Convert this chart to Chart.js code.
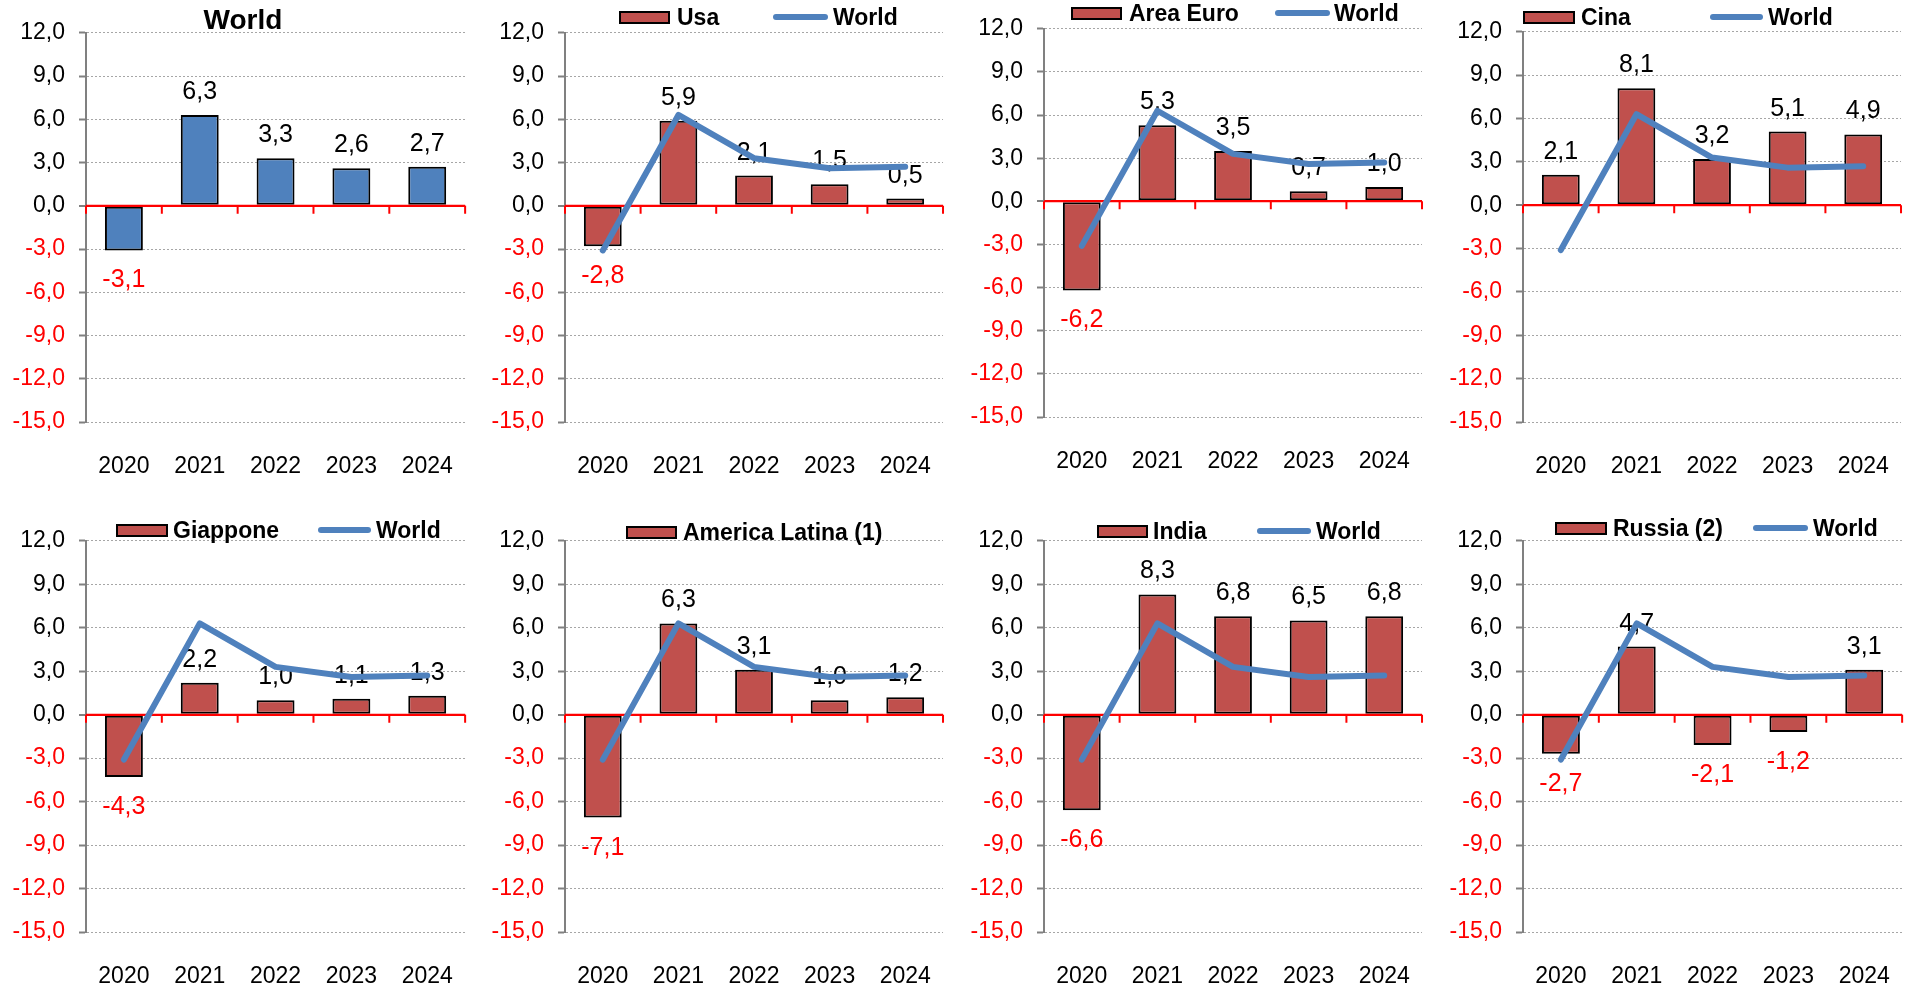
<!DOCTYPE html>
<html>
<head>
<meta charset="utf-8">
<script src="https://cdn.jsdelivr.net/npm/chart.js@4.4.1/dist/chart.umd.min.js"></script>
<style>
  html, body { margin:0; padding:0; background:#fff; width:1913px; height:988px; overflow:hidden; }
  body { position:relative; font-family:"Liberation Sans", Arial, sans-serif; }
  canvas { position:absolute; }
  .lg { position:absolute; height:30px; display:flex; align-items:center; font-weight:bold; font-size:23px; color:#000; white-space:nowrap; }
  .box { position:absolute; box-sizing:border-box; border:2px solid #000; background:#C0504D; }
  .ln { position:absolute; height:6px; border-radius:3px; background:#4F81BD; }
  .title { position:absolute; font-weight:bold; font-size:28px; line-height:28px; color:#000; white-space:nowrap; transform:translateX(-50%); }
</style>
</head>
<body>
<script>
// ---- data ----
const years = ['2020', '2021', '2022', '2023', '2024'];
const world = [-3.1, 6.3, 3.3, 2.6, 2.7];
const usa = [-2.8, 5.9, 2.1, 1.5, 0.5];
const areaEuro = [-6.2, 5.3, 3.5, 0.7, 1.0];
const cina = [2.1, 8.1, 3.2, 5.1, 4.9];
const giappone = [-4.3, 2.2, 1.0, 1.1, 1.3];
const americaLatina = [-7.1, 6.3, 3.1, 1.0, 1.2];
const india = [-6.6, 8.3, 6.8, 6.5, 6.8];
const russia = [-2.7, 4.7, -2.1, -1.2, 3.1];
const yMin = -15, yMax = 12, yStep = 3;

// ---- styles / layout ----
const BLUE = '#4F81BD', RED_BAR = '#C0504D', NEG = '#FF0000';
const FONT = '"Liberation Sans", Arial, sans-serif';
Chart.defaults.font.family = FONT;

const panels = [
  { name: 'World', values: world, color: BLUE, line: false, geo: [86, 470, 33, 422], title: { x: 243, base: 30 } },
  { name: 'Usa', values: usa, color: RED_BAR, line: true, geo: [565, 948, 33, 422], lg: { box: [619, 670], tx: 677, ln: [773, 828], wx: 833, yc: 17 } },
  { name: 'Area Euro', values: areaEuro, color: RED_BAR, line: true, geo: [1044, 1427, 29, 417], lg: { box: [1071, 1122], tx: 1129, ln: [1275, 1330], wx: 1334, yc: 13 } },
  { name: 'Cina', values: cina, color: RED_BAR, line: true, geo: [1523, 1906, 32, 422], lg: { box: [1523, 1575], tx: 1581, ln: [1710, 1763], wx: 1768, yc: 17 } },
  { name: 'Giappone', values: giappone, color: RED_BAR, line: true, geo: [86, 470, 541, 932], lg: { box: [116, 168], tx: 173, ln: [318, 371], wx: 376, yc: 530 } },
  { name: 'America Latina (1)', values: americaLatina, color: RED_BAR, line: true, geo: [565, 948, 541, 932], lg: { box: [626, 677], tx: 683, ln: null, wx: null, yc: 532 } },
  { name: 'India', values: india, color: RED_BAR, line: true, geo: [1044, 1427, 541, 932], lg: { box: [1097, 1148], tx: 1153, ln: [1257, 1311], wx: 1316, yc: 531 } },
  { name: 'Russia (2)', values: russia, color: RED_BAR, line: true, geo: [1523, 1907, 541, 932], lg: { box: [1555, 1607], tx: 1613, ln: [1753, 1808], wx: 1813, yc: 528 } }
];

const fmt = v => (Math.round(v * 10) / 10).toFixed(1).replace('.', ',');

const Y_W = 80, X_H = 60;

const barDecor = {
  id: 'barDecor',
  afterDatasetDraw(chart, args) {
    if (args.index !== 0) return;
    const ctx = chart.ctx, x = chart.scales.x, y = chart.scales.y, area = chart.chartArea;
    const zero = y.getPixelForValue(0);
    ctx.save();
    ctx.strokeStyle = NEG;
    ctx.lineWidth = 2;
    ctx.beginPath();
    ctx.moveTo(area.left, zero);
    ctx.lineTo(area.right, zero);
    ctx.stroke();
    const n = chart.data.labels.length;
    const half = (x.getPixelForValue(1) - x.getPixelForValue(0)) / 2;
    ctx.beginPath();
    for (let i = 0; i <= n; i++) {
      const px = i < n ? x.getPixelForValue(i) - half : x.getPixelForValue(n - 1) + half;
      ctx.moveTo(px, zero);
      ctx.lineTo(px, zero + 8);
    }
    ctx.stroke();
    const meta = chart.getDatasetMeta(0);
    const data = chart.data.datasets[0].data;
    ctx.font = '25px ' + FONT;
    ctx.textAlign = 'center';
    ctx.textBaseline = 'alphabetic';
    meta.data.forEach((bar, i) => {
      const v = data[i];
      if (v >= 0) {
        ctx.fillStyle = '#000';
        ctx.fillText(fmt(v), bar.x, bar.y - 16);
      } else {
        ctx.fillStyle = NEG;
        ctx.fillText(fmt(v), bar.x, bar.y + 37);
      }
    });
    ctx.restore();
  }
};

function makeChart(p, w, h) {
  const cv = document.createElement('canvas');
  cv.width = w; cv.height = h;
  cv.style.width = w + 'px'; cv.style.height = h + 'px';
  cv.style.left = '0px'; cv.style.top = '0px';
  document.body.appendChild(cv);

  const datasets = [{
    type: 'bar', label: p.name, data: p.values,
    backgroundColor: p.color, borderColor: '#000', borderWidth: 2, borderSkipped: false,
    barPercentage: 0.5, categoryPercentage: 1, order: 2
  }];
  if (p.line) {
    datasets.push({
      type: 'line', label: 'World', data: world,
      borderColor: BLUE, borderWidth: 6, pointRadius: 0, pointHoverRadius: 0,
      borderCapStyle: 'round', borderJoinStyle: 'round', tension: 0, fill: false, order: 1
    });
  }

  const chart = new Chart(cv, {
    type: 'bar',
    data: { labels: years, datasets },
    options: {
      responsive: false, maintainAspectRatio: false, animation: false, devicePixelRatio: 1,
      layout: { padding: { top: 0, right: 2, left: 0, bottom: 0 } },
      plugins: { legend: { display: false }, tooltip: { enabled: false }, title: { display: false } },
      scales: {
        x: {
          grid: { display: false, drawTicks: false },
          border: { display: false },
          ticks: { color: '#000', font: { size: 23 }, padding: 31, maxRotation: 0 },
          afterFit: s => { s.height = X_H; }
        },
        y: {
          min: yMin, max: yMax,
          ticks: {
            stepSize: yStep, callback: v => fmt(v),
            color: c => (c.tick && c.tick.value < 0) ? NEG : '#000',
            font: { size: 23 }, padding: 14
          },
          grid: {
            color: c => (c.tick && c.tick.value === 0) ? NEG : '#A6A6A6',
            lineWidth: c => (c.tick && c.tick.value === 0) ? 2 : 1,
            tickLength: 7, tickColor: '#808080', tickWidth: 2
          },
          border: {
            display: true, color: '#808080', width: 2,
            dash: c => (c.tick && c.tick.value === 0) ? [] : [2, 2]
          },
          afterFit: s => { s.width = Y_W; }
        }
      }
    },
    plugins: [barDecor]
  });
  return { cv, chart };
}

panels.forEach(p => {
  const [ax, rx, ty, by] = p.geo;
  const tw = rx - ax, th = by - ty;
  // first pass: measure the padding Chart.js adds around the plot area
  let w = tw + 140, h = th + 110;
  let r = makeChart(p, w, h);
  let a = r.chart.chartArea;
  const nw = Math.round(w + (tw - (a.right - a.left)));
  const nh = Math.round(h + (th - (a.bottom - a.top)));
  r.chart.destroy(); r.cv.remove();
  // second pass with corrected canvas size
  r = makeChart(p, nw, nh);
  a = r.chart.chartArea;
  r.cv.style.left = (ax - a.left) + 'px';
  r.cv.style.top = (ty - a.top) + 'px';

  if (p.title) {
    const t = document.createElement('div');
    t.className = 'title';
    t.textContent = p.name;
    t.style.left = p.title.x + 'px';
    t.style.top = (p.title.base - 0.8465 * 28) + 'px';
    document.body.appendChild(t);
  }
  if (p.lg) {
    const L = p.lg;
    const bx = document.createElement('div');
    bx.className = 'box';
    bx.style.left = L.box[0] + 'px';
    bx.style.width = (L.box[1] - L.box[0]) + 'px';
    bx.style.top = (L.yc - 6.5) + 'px';
    bx.style.height = '13px';
    document.body.appendChild(bx);
    const tx = document.createElement('div');
    tx.className = 'lg';
    tx.textContent = p.name;
    tx.style.left = L.tx + 'px';
    tx.style.top = (L.yc - 15) + 'px';
    document.body.appendChild(tx);
    if (L.ln) {
      const ln = document.createElement('div');
      ln.className = 'ln';
      ln.style.left = L.ln[0] + 'px';
      ln.style.width = (L.ln[1] - L.ln[0]) + 'px';
      ln.style.top = (L.yc - 3) + 'px';
      document.body.appendChild(ln);
      const wt = document.createElement('div');
      wt.className = 'lg';
      wt.textContent = 'World';
      wt.style.left = L.wx + 'px';
      wt.style.top = (L.yc - 15) + 'px';
      document.body.appendChild(wt);
    }
  }
});
</script>
</body>
</html>
